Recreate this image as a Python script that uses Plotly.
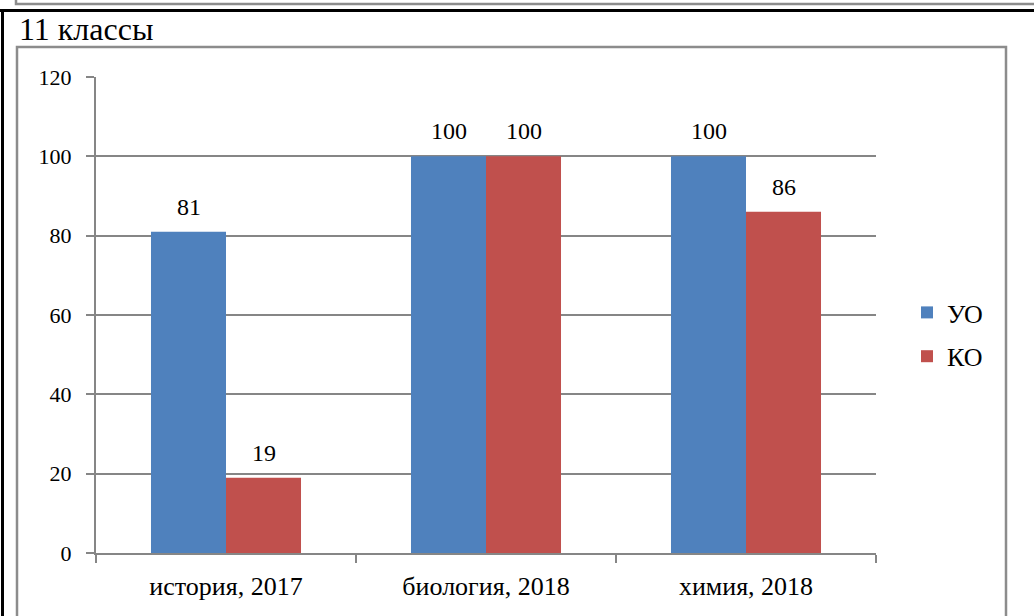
import plotly.graph_objects as go

categories = ["история, 2017", "биология, 2018", "химия, 2018"]
uo_values = [81, 100, 100]
ko_values = [19, 100, 86]
series_names = ["УО", "КО"]
y_ticks = [0, 20, 40, 60, 80, 100, 120]
title_text = "11 классы"

BLUE = "#4F81BD"
RED = "#C0504D"
GRID = "#868686"
SERIF = "Liberation Serif, Times New Roman, serif"

W, H = 1034, 616
# plot area in px
L, R, T, B = 96, 876, 77, 553


def px(x):  # px -> paper
    return (x - L) / (R - L)


def py(y):
    return (B - y) / (B - T)


fig = go.Figure()
fig.add_trace(go.Bar(x=categories, y=uo_values, name=series_names[0],
                     marker=dict(color=BLUE, line=dict(width=0)),
                     legendgroup="a"))
fig.add_trace(go.Bar(x=categories, y=ko_values, name=series_names[1],
                     marker=dict(color=RED, line=dict(width=0)),
                     legendgroup="b"))

# data labels
bar_px = 75
annotations = []
for vals, shift in ((uo_values, -bar_px / 2), (ko_values, bar_px / 2)):
    for c, v in zip(categories, vals):
        annotations.append(dict(x=c, y=v, xref="x", yref="y", text=str(v),
                                showarrow=False, xshift=shift, yshift=25,
                                font=dict(family=SERIF, size=24, color="black")))

annotations.append(dict(x=px(17), y=py(29), xref="paper", yref="paper",
                        xanchor="left", yanchor="middle", text=title_text,
                        showarrow=False,
                        font=dict(family=SERIF, size=32, color="black")))

shapes = [
    # chart border (gray)
    dict(type="rect", xref="paper", yref="paper",
         x0=px(17), x1=px(1006), y0=py(640), y1=py(47),
         line=dict(color="#8C8C8C", width=2.5), layer="below"),
    # top gray line (bottom edge of a box above)
    dict(type="path", xref="paper", yref="paper",
         path=f"M {px(16)} {py(-5)} L {px(16)} {py(4)} L {px(1040)} {py(4)}",
         line=dict(color="#8C8C8C", width=2.5)),
    # black horizontal line
    dict(type="line", xref="paper", yref="paper",
         x0=px(0), x1=px(1040), y0=py(10.5), y1=py(10.5),
         line=dict(color="black", width=3)),
    # black vertical line
    dict(type="line", xref="paper", yref="paper",
         x0=px(2.5), x1=px(2.5), y0=py(10), y1=py(640),
         line=dict(color="black", width=3)),
]

fig.update_layout(
    width=W, height=H,
    margin=dict(l=L, r=W - R, t=T, b=H - B, pad=0),
    paper_bgcolor="white", plot_bgcolor="white",
    barmode="group", bargap=0.423, bargroupgap=0,
    showlegend=True,
    legend=dict(x=px(907), y=py(289), xanchor="left", yanchor="top",
                font=dict(family=SERIF, size=26, color="black"),
                traceorder="grouped", tracegroupgap=7,
                bgcolor="rgba(0,0,0,0)", itemwidth=30),
    annotations=annotations,
    shapes=shapes,
    font=dict(family=SERIF, color="black"),
)

fig.update_yaxes(range=[0, 120], tickvals=y_ticks, ticktext=[str(t) for t in y_ticks],
                 showgrid=True, gridcolor=GRID, gridwidth=1.5,
                 showline=True, linecolor=GRID, linewidth=2,
                 ticks="outside", ticklen=8, tickcolor=GRID, tickwidth=2,
                 ticklabelstandoff=10,
                 tickfont=dict(family=SERIF, size=22, color="black"),
                 zeroline=False)
fig.update_xaxes(showline=True, linecolor=GRID, linewidth=2,
                 ticks="outside", tickson="boundaries", ticklen=8,
                 tickcolor=GRID, tickwidth=2,
                 tickfont=dict(family=SERIF, size=26, color="black"),
                 ticklabelstandoff=9)

fig.write_html("out.html",
               config={"displayModeBar": False},
               post_script="document.body.style.margin='0';"
                           "document.body.style.overflow='hidden';")
